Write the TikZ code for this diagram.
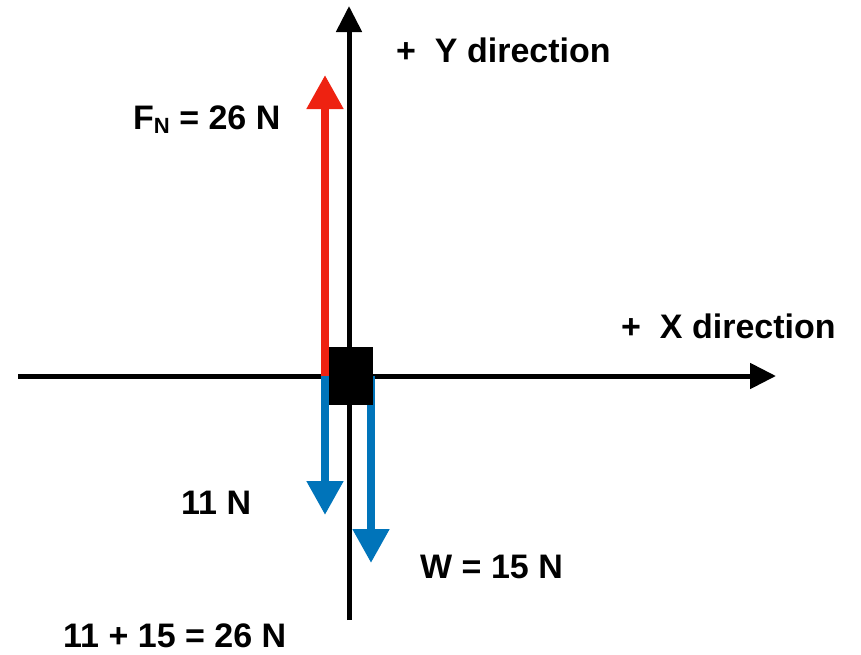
\documentclass[tikz,border=0pt]{standalone}
\usepackage{fontspec}
\setmainfont{Liberation Sans}
\usetikzlibrary{arrows.meta}
\definecolor{fred}{RGB}{238,34,17}
\definecolor{fblue}{RGB}{0,116,186}
\begin{document}
\begin{tikzpicture}[x=1pt,y=-1pt,
  axis/.style={line width=5pt,draw=black,-{Triangle[length=26pt,width=25pt]}},
  force/.style={line width=8pt,-{Triangle[length=34pt,width=35pt]}},
  lbl/.style={inner sep=0pt,anchor=base west,font=\fontsize{34}{40}\selectfont\bfseries}]
\useasboundingbox (0,0) rectangle (861,654);
% axes
\coordinate (ybot) at (349,620);
\coordinate (ytop) at (349,6);
\coordinate (xleft) at (18,376);
\coordinate (xright) at (776,376);
\draw[axis] (ybot) -- (ytop);
\draw[axis] (xleft) -- (xright);
% forces
\coordinate (fnstart) at (325,376);
\coordinate (fntip) at (325,75);
\coordinate (f11start) at (325,376);
\coordinate (f11tip) at (325,515);
\coordinate (wstart) at (371,376);
\coordinate (wtip) at (371,563);
\draw[force,draw=fred,fill=fred] (fnstart) -- (fntip);
\draw[force,draw=fblue,fill=fblue] (f11start) -- (f11tip);
\draw[force,draw=fblue,fill=fblue] (wstart) -- (wtip);
% block
\node[fill=black,inner sep=0pt,minimum width=44pt,minimum height=58pt] (box) at (351,376) {};
% labels
\node[lbl] (ylab) at (396,62) {+\ \ Y direction};
\node[lbl] (xlab) at (621,338) {+\ \ X direction};
\node[lbl] (fnlab) at (133,129) {F\raisebox{-4pt}{\fontsize{22}{22}\selectfont N} = 26 N};
\node[lbl] (elevenlab) at (181,514) {11 N};
\node[lbl] (wlab) at (420,578) {W = 15 N};
\node[lbl] (sumlab) at (63,647) {11 + 15 = 26 N};
\end{tikzpicture}
\end{document}
